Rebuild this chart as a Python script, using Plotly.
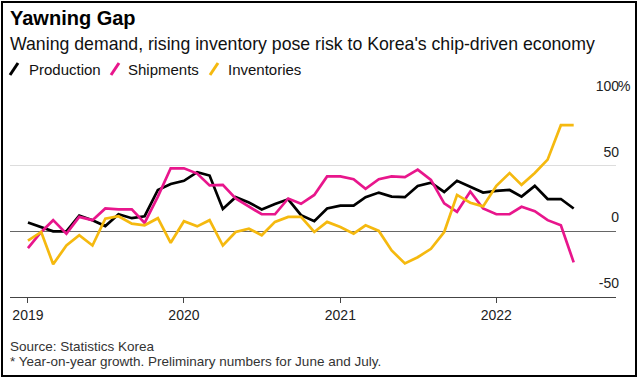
import plotly.graph_objects as go

# ---------------- data (monthly, Jan 2019 - Jul 2022, YoY growth %) ----------------
months = [f"{y}-{m:02d}-01" for y in range(2019, 2023) for m in range(1, 13)][:43]

production = [6.7, 3.3, 0, 0, 12, 8.5, 4, 13, 10, 11.5, 31.5, 36,
              38.5, 45, 42.5, 17, 26, 22, 16.7, 20.8, 24.4, 12.3, 7.7, 17.4,
              19.5, 19.5, 26, 29.5, 26.4, 26, 34.6, 37, 30, 38.5, 34, 29.5,
              30.8, 31.5, 26.4, 34.6, 24.6, 24.6, 17.4]
shipments = [-12.8, -0.5, 8.5, -1.8, 11, 8.5, 17.4, 16.7, 16.7, 6.4, 26.4, 48,
             48, 44, 35, 35.4, 25, 19, 13, 13, 25, 21, 27.7, 41.8,
             41.8, 39.7, 32.3, 39.7, 41.8, 41.3, 47, 39.2, 21.3, 14.9, 30.3, 17.4,
             13, 13, 18.7, 15.4, 8.5, 4.6, -23.6]
inventories = [-7, -0.5, -25, -10.8, -3, -10.8, 9.7, 11.5, 5.9, 4.6, 10, -8.7,
               7.7, 3.8, 8.5, -10.8, -0.5, 2, -3, 7.2, 11, 11, -0.5, 7.2,
               3.3, -1.8, 4.6, 0.3, -14.6, -24.4, -19.7, -13.3, -0.5, 27.7, 21.8, 19,
               34.6, 44.4, 35.4, 44.4, 54.6, 80.8, 80.8]

series_names = ["Production", "Shipments", "Inventories"]
series_colors = ["#000000", "#e8168c", "#f5b90f"]

x_tick_vals = ["2019-01-01", "2020-01-01", "2021-01-01", "2022-01-01"]
x_tick_text = ["2019", "2020", "2021", "2022"]
y_tick_vals = [-50, 0, 50, 100]
y_tick_text = ["-50", "0", "50", "100"]

# ---------------- layout geometry ----------------
W, H = 639, 379
L, R, T, B = 10, 616, 100, 297


def px(x):
    return (x - L) / (R - L)


def py(y):
    return (B - y) / (B - T)


FONT = "Liberation Sans, Arial, Helvetica, sans-serif"

fig = go.Figure()
for name, vals, col in zip(series_names, [production, shipments, inventories], series_colors):
    fig.add_trace(go.Scatter(x=months, y=vals, mode="lines", name=name,
                             line=dict(color=col, width=2.7), showlegend=False))

annotations = [
    dict(text="<b>Yawning Gap</b>", x=px(8), y=py(18), font=dict(size=20, color="#000")),
    dict(text="Waning demand, rising inventory pose risk to Korea's chip-driven economy",
         x=px(8), y=py(44), font=dict(size=17.7, color="#111")),
    dict(text="Source: Statistics Korea", x=px(8), y=py(346), font=dict(size=13.5, color="#333")),
    dict(text="* Year-on-year growth. Preliminary numbers for June and July.",
         x=px(8), y=py(361), font=dict(size=13.5, color="#333")),
]
for a in annotations:
    a.update(xref="paper", yref="paper", xanchor="left", yanchor="middle", showarrow=False)

# percent sign next to the top tick label
annotations.append(dict(text="%", xref="paper", yref="y", x=1, y=100, xanchor="left",
                        yanchor="middle", yshift=14, xshift=1, borderpad=0, showarrow=False,
                        font=dict(size=14, color="#222")))

shapes = [dict(type="rect", xref="paper", yref="paper", x0=px(2), x1=px(636),
               y0=py(2), y1=py(376), line=dict(color="#000", width=2), fillcolor="rgba(0,0,0,0)")]

# legend: slanted swatches + labels
legend_pos = [(10, 27), (111, 126), (210, 226)]
for (sx, tx), name, col in zip(legend_pos, series_names, series_colors):
    shapes.append(dict(type="line", xref="paper", yref="paper", x0=px(sx), y0=py(75),
                       x1=px(sx + 8), y1=py(63), line=dict(color=col, width=3)))
    annotations.append(dict(text=name, xref="paper", yref="paper", x=px(tx), y=py(69),
                            xanchor="left", yanchor="middle", showarrow=False,
                            font=dict(size=15, color="#111")))

fig.update_layout(
    width=W, height=H,
    margin=dict(l=L, r=W - R, t=T, b=H - B),
    paper_bgcolor="white", plot_bgcolor="white",
    font=dict(family=FONT, color="#222"),
    showlegend=False,
    annotations=annotations,
    shapes=shapes,
    xaxis=dict(type="date", range=["2018-11-20", "2022-10-08"],
               tickvals=x_tick_vals, ticktext=x_tick_text,
               ticks="outside", ticklen=5, tickcolor="#444", tickwidth=1,
               showline=True, linecolor="#444", linewidth=1,
               showgrid=False, zeroline=False,
               tickfont=dict(size=14, color="#222")),
    yaxis=dict(range=[-50, 100], side="right",
               tickvals=y_tick_vals, ticktext=y_tick_text,
               ticklabelposition="inside top", ticklabeloverflow="allow",
               ticklabelstandoff=-6, ticklabelshift=-4,
               showgrid=True, gridcolor="#dddddd", gridwidth=1,
               zeroline=True, zerolinecolor="#666", zerolinewidth=1,
               showline=False, ticks="",
               tickfont=dict(size=14, color="#222")),
)

fig.write_html("out.html", config={"displayModeBar": False},
               post_script="document.body.style.margin='0';")
